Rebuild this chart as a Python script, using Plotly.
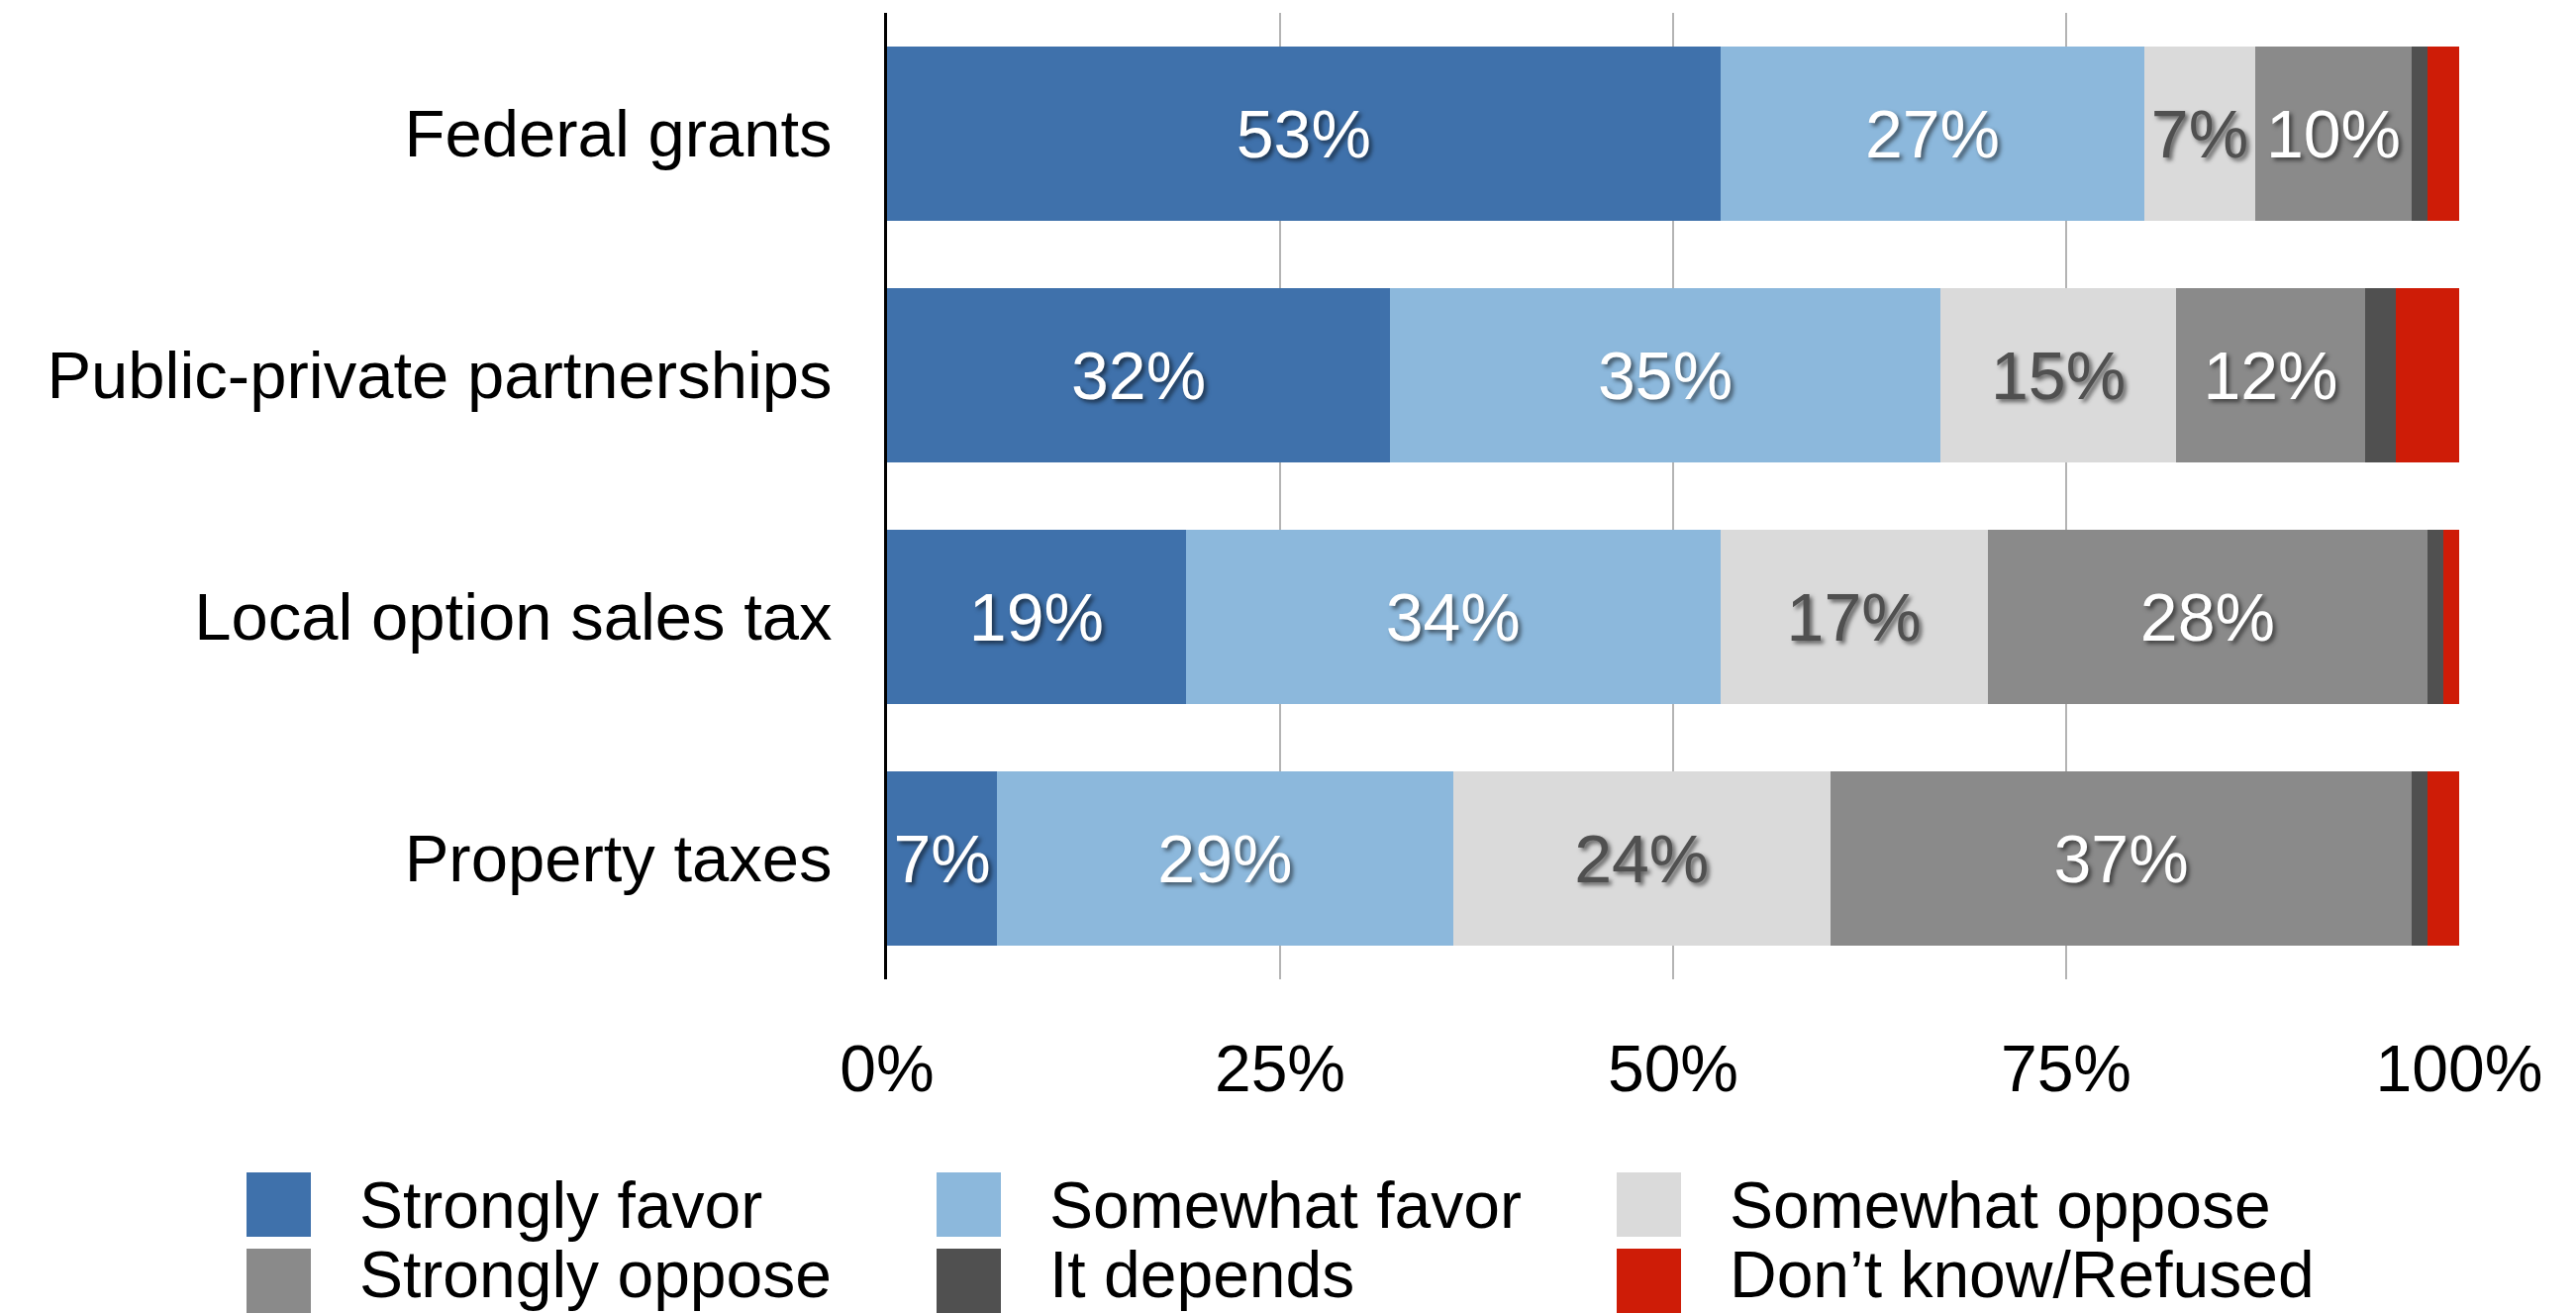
import plotly.graph_objects as go

categories = ["Federal grants", "Public-private partnerships", "Local option sales tax", "Property taxes"]
series_names = ["Strongly favor", "Somewhat favor", "Somewhat oppose", "Strongly oppose", "It depends", "Don\u2019t know/Refused"]
strongly_favor = [53, 32, 19, 7]
somewhat_favor = [27, 35, 34, 29]
somewhat_oppose = [7, 15, 17, 24]
strongly_oppose = [10, 12, 28, 37]
it_depends = [1, 2, 1, 1]
dont_know = [2, 4, 1, 2]
x_ticks = [0, 25, 50, 75, 100]

series_values = [strongly_favor, somewhat_favor, somewhat_oppose, strongly_oppose, it_depends, dont_know]
colors = ["#3F71AB", "#8CB8DC", "#DADADA", "#8A8A8A", "#505050", "#CE1C07"]
label_colors = ["#FFFFFF", "#FFFFFF", "#505050", "#FFFFFF", None, None]

FONT = "Liberation Sans, Arial, sans-serif"
W, H = 2602, 1327
L, R, T, B = 896, 2484, 13, 989

fig = go.Figure()
for name, vals, col, lc in zip(series_names, series_values, colors, label_colors):
    fig.add_trace(go.Bar(
        y=categories, x=vals, name=name, orientation="h",
        marker=dict(color=col, line=dict(width=0)),
        text=[f"{v}%" for v in vals] if lc else None,
        textposition="inside" if lc else "none",
        insidetextanchor="middle",
        textfont=dict(family=FONT, size=68, color=lc if lc else "#fff",
                      shadow="3px 3px 4px rgba(0,0,0,0.55)"),
        hoverinfo="x+name",
        showlegend=False,
    ))

fig.update_layout(
    width=W, height=H,
    barmode="stack", bargap=0.28,
    margin=dict(l=L, r=W - R, t=T, b=H - B),
    plot_bgcolor="white", paper_bgcolor="white",
    font=dict(family=FONT, size=66, color="#000"),
    uniformtext=dict(minsize=66, mode="show"),
    xaxis=dict(range=[0, 100], tickvals=x_ticks, ticktext=[f"{t}%" for t in x_ticks],
               showgrid=True, gridcolor="#B4B4B4", gridwidth=2, zeroline=False,
               showline=False, ticks="", ticklabelstandoff=46,
               tickfont=dict(family=FONT, size=66, color="#000")),
    yaxis=dict(categoryorder="array", categoryarray=categories, range=[3.5, -0.5],
               showline=True, linecolor="#000", linewidth=3, showgrid=False,
               zeroline=False, ticks="", ticklabelstandoff=39,
               tickfont=dict(family=FONT, size=67, color="#000")),
)

# manual legend (large square swatches), positioned in paper coordinates
def px_x(p):
    return (p - L) / (R - L)

def px_y(p):
    return (B - p) / (B - T)

col_x = [249, 946, 1633]
row_y = [1184, 1261]
text_shift = [0, -7]
sw = 65
for i, (name, col) in enumerate(zip(series_names, colors)):
    r, c = divmod(i, 3)
    x0, y0 = col_x[c], row_y[r]
    fig.add_shape(type="rect", xref="paper", yref="paper",
                  x0=px_x(x0), x1=px_x(x0 + sw), y0=px_y(y0 + sw), y1=px_y(y0),
                  fillcolor=col, line=dict(width=0), layer="above")
    fig.add_annotation(xref="paper", yref="paper", x=px_x(x0 + 112),
                       y=px_y(y0 + sw / 2 + text_shift[r]),
                       text=name, showarrow=False, xanchor="left", yanchor="middle",
                       font=dict(family=FONT, size=66, color="#000"))

fig.write_html("out.html", config={"displayModeBar": False},
               post_script="document.body.style.margin='0';document.body.style.overflow='hidden';")
